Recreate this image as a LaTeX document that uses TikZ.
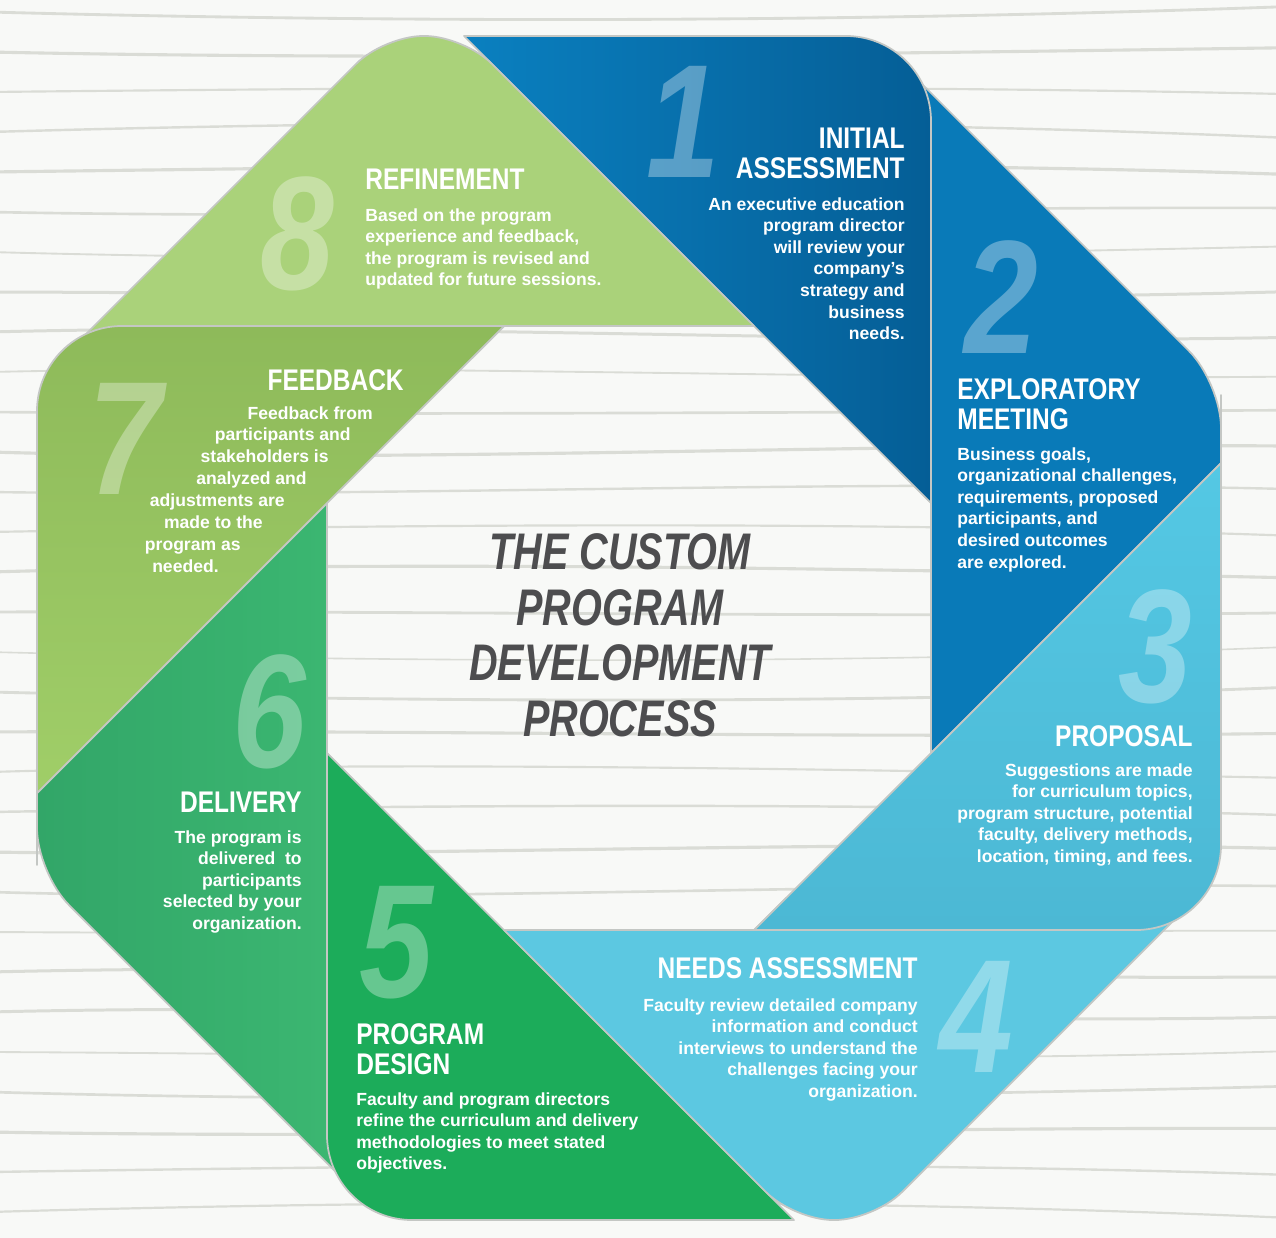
\documentclass[tikz,border=0pt]{standalone}
\usepackage{fontspec}
\setmainfont{Liberation Sans}
\newfontfamily\headfont[FakeStretch=0.82]{Liberation Sans}
\newfontfamily\titlefont[FakeStretch=0.77]{Liberation Sans}
\definecolor{paper}{RGB}{248,249,247}
\definecolor{streak}{RGB}{218,220,214}
\definecolor{edge}{RGB}{196,199,196}
\definecolor{blueA}{RGB}{10,128,192}
\definecolor{blueAm}{RGB}{8,118,178}
\definecolor{blueAd}{RGB}{5,94,150}
\definecolor{blueB}{RGB}{9,122,184}
\definecolor{cyanA}{RGB}{84,200,228}
\definecolor{cyanAd}{RGB}{76,184,212}
\definecolor{cyanB}{RGB}{92,200,225}
\definecolor{greenA}{RGB}{28,172,90}
\definecolor{greenB}{RGB}{60,184,114}
\definecolor{greenBd}{RGB}{50,166,104}
\definecolor{limeA}{RGB}{142,186,90}
\definecolor{limeAl}{RGB}{160,206,104}
\definecolor{limeB}{RGB}{170,210,122}
\definecolor{titlegray}{RGB}{77,77,79}

\begin{document}
\begin{tikzpicture}[x=0.02cm,y=-0.02cm,
  seg/.style={draw=edge,line width=1pt,line join=round},
  num/.style={text=white,text opacity=0.33,inner sep=0,anchor=base,
    font=\headfont\bfseries\itshape\fontsize{92}{92}\selectfont},
  hd/.style={text=white,inner sep=0,font=\headfont\bfseries\fontsize{17}{17}\selectfont},
  bd/.style={text=white,inner sep=0,font=\bfseries\fontsize{10}{12.3}\selectfont}]
\path[use as bounding box] (0,0) rectangle (1276,1238);
\clip (0,0) rectangle (1276,1238);
\fill[paper] (0,0) rectangle (1276,1238);
\foreach \y [count=\i] in {12,52,...,1232} {
  \pgfmathsetmacro\a{12*sin(\i*67)}
  \pgfmathsetmacro\b{14*cos(\i*41)}
  \pgfmathsetmacro\w{0.9+0.9*abs(sin(\i*53))}
  \draw[streak,line width=\w pt] (-10,\y) .. controls (400,\y+\a) and (850,\y+\b) .. (1290,\y-\a/2);
}
% ribbon, lower layers first
\path[seg,fill=blueB] (1060,222) [rounded corners=0.9cm] -- (1221,383) -- (1221,440) [sharp corners]
  -- (1221,463) -- (931,753) -- (931,503) -- (899,471) -- (899,61) -- cycle;
\path[seg,left color=greenBd,right color=greenB] (198,1034) [rounded corners=0.9cm] -- (37,873) -- (37,820) [sharp corners]
  -- (37,793) -- (327,503) -- (327,753) -- (359,785) -- (359,1195) -- cycle;
\path[seg,left color=blueA,middle color=blueAm,right color=blueAd] (700,36) [rounded corners=1.7cm] -- (931,36) -- (931,300) [sharp corners]
  -- (931,503) -- (464,36) -- cycle;
\path[seg,fill=greenA] (560,1220) [rounded corners=1.7cm] -- (327,1220) -- (327,1000) [sharp corners]
  -- (327,753) -- (794,1220) -- cycle;
\path[seg,fill=limeB] (223,197) [rounded corners=0.78cm] -- (384,36) -- (464,36) -- (609,181) [sharp corners]
  -- (754,326) -- (504,326) -- (472,358) -- (62,358) -- cycle;
\path[seg,fill=cyanB] (1035,1059) [rounded corners=0.78cm] -- (874,1220) -- (794,1220) -- (649,1075) [sharp corners]
  -- (504,930) -- (754,930) -- (786,898) -- (1196,898) -- cycle;
\path[seg,top color=cyanA,bottom color=cyanAd] (1221,700) [rounded corners=1.7cm] -- (1221,930) -- (1000,930) [sharp corners]
  -- (754,930) -- (1221,463) -- cycle;
\path[seg,top color=limeA,bottom color=limeAl] (37,560) [rounded corners=1.7cm] -- (37,326) -- (270,326) [sharp corners]
  -- (504,326) -- (37,793) -- cycle;
% numbers
\node[num] (n1) at (683,177) {1};
\node[num] (n2) at (1001,353) {2};
\node[num] (n3) at (1155,702) {3};
\node[num] (n4) at (976,1072) {4};
\node[num] (n5) at (396,997) {5};
\node[num] (n6) at (269,767) {6};
\node[num] (n7) at (125,494) {7};
\node[num] (n8) at (297,289) {8};
% step texts
\node[hd,anchor=north east,align=right] (h1) at (905,128) {INITIAL\\ASSESSMENT};
\node[bd,anchor=north east,align=right] (b1) at (905,197) {An executive education\\program director\\will review your\\company’s\\strategy and\\business\\needs.};
\node[hd,anchor=north west,align=left] (h2) at (957,378) {EXPLORATORY\\MEETING};
\node[bd,anchor=north west,align=left] (b2) at (957,447) {Business goals,\\organizational challenges,\\requirements, proposed\\participants, and\\desired outcomes\\are explored.};
\node[hd,anchor=north east] (h3) at (1193,725) {PROPOSAL};
\node[bd,anchor=north east,align=right] (b3) at (1193,763) {Suggestions are made\\for curriculum topics,\\program structure, potential\\faculty, delivery methods,\\location, timing, and fees.};
\node[hd,anchor=north east] (h4) at (918,957) {NEEDS ASSESSMENT};
\node[bd,anchor=north east,align=right] (b4) at (918,998) {Faculty review detailed company\\information and conduct\\interviews to understand the\\challenges facing your\\organization.};
\node[hd,anchor=north west,align=left] (h5) at (356,1023) {PROGRAM\\DESIGN};
\node[bd,anchor=north west,align=left] (b5) at (356,1092) {Faculty and program directors\\refine the curriculum and delivery\\methodologies to meet stated\\objectives.};
\node[hd,anchor=north east] (h6) at (302,792) {DELIVERY};
\node[bd,anchor=north east,align=right] (b6) at (302,830) {The program is\\delivered\ \ to\\participants\\selected by your\\organization.};
\node[hd,anchor=north east] (h7) at (404,369) {FEEDBACK};
\foreach \t [count=\i from 0] in {Feedback from,participants and,stakeholders is,analyzed and,adjustments are,made to the,program as,needed.}
  \node[bd,anchor=base east] (b7-\i) at (373-22*\i,419+21.9*\i) {\t};
\node[hd,anchor=north west] (h8) at (365,169) {REFINEMENT};
\node[bd,anchor=north west,align=left] (b8) at (365,208) {Based on the program\\experience and feedback,\\the program is revised and\\updated for future sessions.};
% title
\node[anchor=north,align=center,text=titlegray,inner sep=0,
  font=\titlefont\bfseries\itshape\fontsize{29.3}{31.7}\selectfont] (ttl) at (620,533)
  {THE CUSTOM\\PROGRAM\\DEVELOPMENT\\PROCESS};
\end{tikzpicture}
\end{document}
